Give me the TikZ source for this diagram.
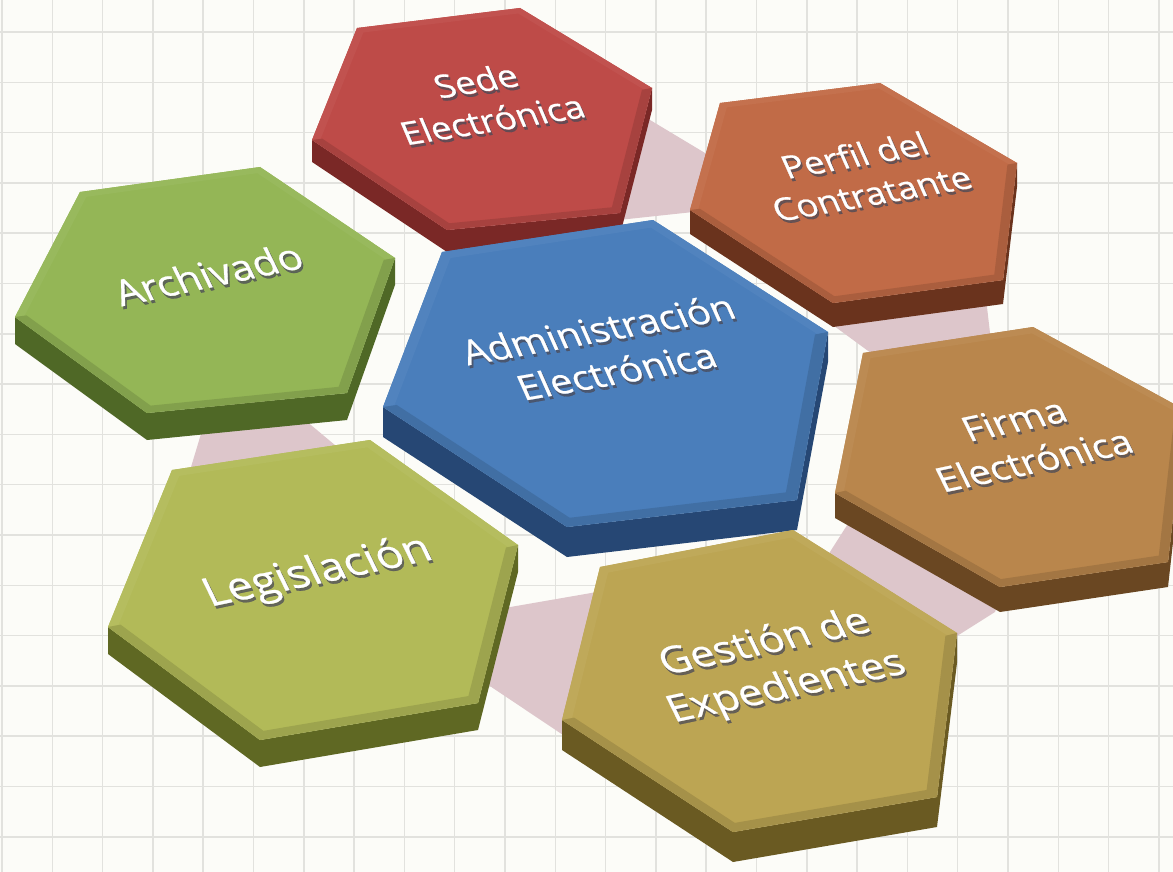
\documentclass[tikz,border=0pt]{standalone}
\usepackage{fontspec}
\setmainfont{Open Sans}
\newfontfamily\slabfont[FakeBold=0.6]{Open Sans}
\usetikzlibrary{calc}

\definecolor{paper}{HTML}{FCFCF8}
\definecolor{gridgray}{HTML}{E2E2DE}
\definecolor{ringpink}{HTML}{DDC6CB}
\definecolor{shadowgray}{HTML}{4A4A58}
\definecolor{sedeTop}{HTML}{BE4B48}
\definecolor{sedeSide}{HTML}{7A2826}
\definecolor{perfilTop}{HTML}{C16B47}
\definecolor{perfilSide}{HTML}{6A331D}
\definecolor{archTop}{HTML}{94B656}
\definecolor{archSide}{HTML}{4F6826}
\definecolor{adminTop}{HTML}{4A7EBB}
\definecolor{adminSide}{HTML}{264774}
\definecolor{firmaTop}{HTML}{B9864C}
\definecolor{firmaSide}{HTML}{6A4722}
\definecolor{legisTop}{HTML}{B2BA58}
\definecolor{legisSide}{HTML}{5F6823}
\definecolor{gestTop}{HTML}{BCA553}
\definecolor{gestSide}{HTML}{6A5A22}

\tikzset{
  gridline/.style={gridgray, line width=1.5pt},
  band/.style={fill=ringpink},
  labeltext/.style={text=white, align=center, inner sep=0pt,
    font=\slabfont\fontsize{34}{43}\selectfont, xslant=-0.25, yscale=0.9, transform shape},
  labelshadow/.style={labeltext, text=shadowgray, opacity=0.75},
}

% slab: #1 name, #2 top colour, #3 side colour, #4 thickness
\newcommand{\hexslab}[4]{%
  \coordinate (#1-c) at ($0.16667*(#1-1)+0.16667*(#1-2)+0.16667*(#1-3)+0.16667*(#1-4)+0.16667*(#1-5)+0.16667*(#1-6)$);
  \fill[#3] (#1-6) -- (#1-5) -- (#1-4) -- (#1-3) -- ($(#1-3)+(0,#4)$) -- ($(#1-4)+(0,#4)$)
    -- ($(#1-5)+(0,#4)$) -- ($(#1-6)+(0,#4)$) -- cycle;
  \fill[#2] (#1-1) -- (#1-2) -- (#1-3) -- (#1-4) -- (#1-5) -- (#1-6) -- cycle;
  \fill[#2!96!white] (#1-6) -- (#1-1) -- (#1-2) -- (#1-3) -- ($(#1-3)!0.05!(#1-c)$)
    -- ($(#1-2)!0.05!(#1-c)$) -- ($(#1-1)!0.05!(#1-c)$) -- ($(#1-6)!0.05!(#1-c)$) -- cycle;
  \fill[#2!88!black] (#1-6) -- (#1-5) -- (#1-4) -- (#1-3) -- ($(#1-3)!0.06!(#1-c)$)
    -- ($(#1-4)!0.06!(#1-c)$) -- ($(#1-5)!0.06!(#1-c)$) -- ($(#1-6)!0.06!(#1-c)$) -- cycle;
}

% label with shadow: #1 name, #2 position, #3 angle, #4 scale, #5 text
\newcommand{\slablabel}[5]{%
  \node[rotate=#3, labelshadow, scale=#4] at ($#2+(1.8,2.8)$) {#5};
  \node[rotate=#3, labeltext, scale=#4] (#1) at #2 {#5};
}

\begin{document}
\begin{tikzpicture}[x=1pt,y=-1pt]
\useasboundingbox (0,0) rectangle (1173,872);
\fill[paper] (0,0) rectangle (1173,872);

% grid
\foreach \k in {0,...,23}
  \draw[gridline] ({2+50.3*\k},0) -- ({2+50.3*\k},872);
\foreach \k in {0,...,16}
  \draw[gridline] (0,{32+50.3*\k}) -- (1173,{32+50.3*\k});

% pink ring pieces
\fill[band] (600,90) -- (740,174) -- (740,207) -- (600,222) -- cycle;
\fill[band] (210,404) -- (281,400) -- (360,466) -- (182,497) -- cycle;
\fill[band] (815,312) -- (985,290) -- (992,350) -- (890,367) -- cycle;
\fill[band] (470,614) -- (620,588) -- (590,753) -- (460,666) -- cycle;
\fill[band] (860,505) -- (1000,597) -- (995,612) -- (957,636) -- (828,555) -- cycle;

% corner points, clockwise from top left
\coordinate (sede-1) at (357,28);   \coordinate (sede-2) at (520,8);
\coordinate (sede-3) at (652,88);   \coordinate (sede-4) at (620,213);
\coordinate (sede-5) at (447,230);  \coordinate (sede-6) at (312,140);

\coordinate (perfil-1) at (720,103);  \coordinate (perfil-2) at (880,83);
\coordinate (perfil-3) at (1017,163); \coordinate (perfil-4) at (1003,280);
\coordinate (perfil-5) at (833,303);  \coordinate (perfil-6) at (690,210);

\coordinate (arch-1) at (80,192);   \coordinate (arch-2) at (260,167);
\coordinate (arch-3) at (395,258);  \coordinate (arch-4) at (347,393);
\coordinate (arch-5) at (147,413);  \coordinate (arch-6) at (15,317);

\coordinate (admin-1) at (442,252); \coordinate (admin-2) at (653,220);
\coordinate (admin-3) at (828,332); \coordinate (admin-4) at (797,500);
\coordinate (admin-5) at (567,527); \coordinate (admin-6) at (383,407);

\coordinate (firma-1) at (863,353);  \coordinate (firma-2) at (1033,327);
\coordinate (firma-3) at (1185,410); \coordinate (firma-4) at (1168,562);
\coordinate (firma-5) at (1000,587); \coordinate (firma-6) at (835,493);

\coordinate (legis-1) at (172,470); \coordinate (legis-2) at (370,440);
\coordinate (legis-3) at (518,545); \coordinate (legis-4) at (478,703);
\coordinate (legis-5) at (260,740); \coordinate (legis-6) at (108,627);

\coordinate (gest-1) at (600,567);  \coordinate (gest-2) at (793,530);
\coordinate (gest-3) at (957,633);  \coordinate (gest-4) at (937,797);
\coordinate (gest-5) at (733,832);  \coordinate (gest-6) at (562,720);

% slabs, back to front
\hexslab{sede}{sedeTop}{sedeSide}{22}
\hexslab{perfil}{perfilTop}{perfilSide}{24}
\hexslab{arch}{archTop}{archSide}{27}
\hexslab{admin}{adminTop}{adminSide}{30}
\hexslab{firma}{firmaTop}{firmaSide}{25}
\hexslab{legis}{legisTop}{legisSide}{27}
\hexslab{gest}{gestTop}{gestSide}{30}

% labels
\slablabel{sedeL}{(484,100)}{9}{1.06}{Sede\\Electrónica}
\slablabel{perfilL}{(863,174)}{10}{1.05}{Perfil del\\Contratante}
\slablabel{archL}{(208,274)}{12}{1.2}{Archivado}
\slablabel{adminL}{(607,350)}{10}{1.15}{Administración\\Electrónica}
\slablabel{firmaL}{(1024,440)}{12}{1.14}{Firma\\Electrónica}
\slablabel{legisL}{(318,573)}{12}{1.32}{Legislación}
\slablabel{gestL}{(776,666)}{12}{1.24}{Gestión de\\Expedientes}

\end{tikzpicture}
\end{document}
